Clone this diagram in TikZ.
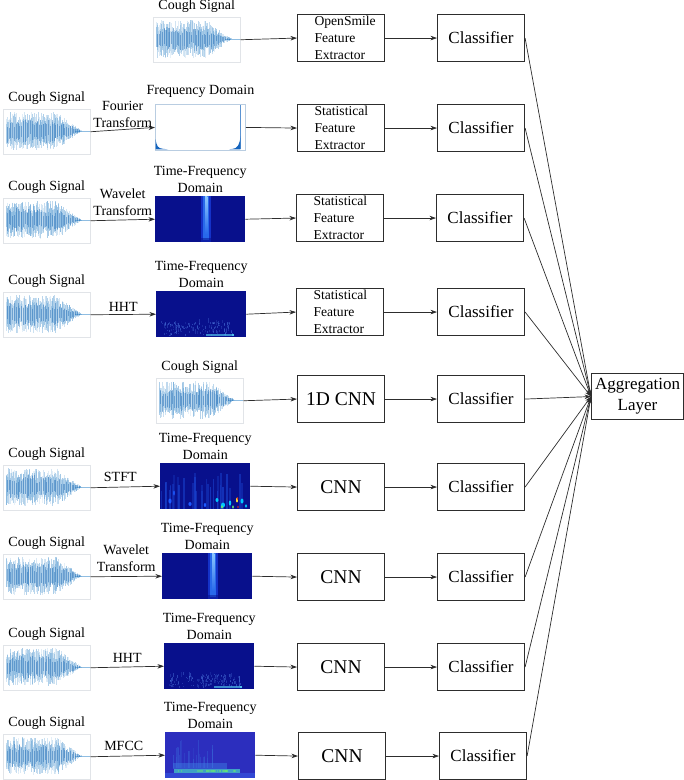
\documentclass[tikz,border=0pt]{standalone}
\usepackage{fontspec}
\setmainfont{Liberation Serif}
\usetikzlibrary{arrows.meta}
\definecolor{wavec}{RGB}{70,145,205}
\definecolor{waved}{RGB}{30,105,180}
\definecolor{navyc}{RGB}{8,16,140}
\definecolor{mfccbg}{RGB}{44,46,190}
\definecolor{linec}{RGB}{45,45,45}
\definecolor{framec}{RGB}{225,228,232}
\definecolor{fdframe}{RGB}{185,205,225}
\definecolor{fdc}{RGB}{20,100,190}
\definecolor{hhtc}{RGB}{70,110,215}
\definecolor{cyanc}{RGB}{80,190,235}
\definecolor{streakA}{RGB}{20,50,200}
\definecolor{streakB}{RGB}{40,105,235}
\definecolor{streakC}{RGB}{140,200,255}
\definecolor{sblue}{RGB}{30,90,255}
\definecolor{scyan}{RGB}{0,200,255}
\definecolor{sgreen}{RGB}{100,230,120}
\definecolor{syellow}{RGB}{250,230,50}
\definecolor{sred}{RGB}{230,50,30}
\definecolor{scol}{RGB}{25,65,205}
\definecolor{mband}{RGB}{60,120,225}
\definecolor{mcyan}{RGB}{70,200,200}
\definecolor{mlow}{RGB}{50,72,212}
\tikzset{
  box/.style={draw=linec, line width=1.1pt, minimum width=87pt, minimum height=47pt, inner sep=0pt, anchor=north west},
  featbox/.style={box, align=left, text width=53pt, inner xsep=17pt, font=\fontsize{13.6}{17}\selectfont},
  cnnbox/.style={box, font=\fontsize{19.5}{22}\selectfont},
  clsbox/.style={box, font=\fontsize{17}{20}\selectfont},
  aggbox/.style={box, minimum width=92pt, minimum height=46pt, align=center, font=\fontsize{17}{21}\selectfont},
  imgframe/.style={draw=framec, line width=0.5pt, minimum width=87pt, minimum height=45pt, inner sep=0pt, anchor=north west},
  specimg/.style={minimum width=90pt, minimum height=46pt, inner sep=0pt, anchor=north west},
  fdimg/.style={specimg, draw=fdframe, line width=0.8pt, fill=white},
  lab/.style={inner sep=0pt, font=\fontsize{14}{17}\selectfont},
  tlab/.style={inner sep=0pt, align=center, font=\fontsize{14}{17}\selectfont},
  arr/.style={draw=linec, line width=0.7pt, -{Stealth[length=6.5pt,width=4.5pt,inset=2pt]}},
}
\newcommand{\coughimg}[3]{%
  \node[imgframe] (#1) at (#2,#3) {};
  \begin{scope}[shift={(#2,#3)}]
    \draw[wavec!60, line width=0.4pt] (72,22) -- (87,22);
    \foreach \i in {0,...,150}{
      \pgfmathsetmacro\xx{3+\i*0.5}
      \pgfmathsetmacro\env{\xx<54 ? 1 : max(0.04,1-(\xx-54)/25)}
      \pgfmathsetmacro\up{\env*(0.35+0.65*rnd)*19}
      \pgfmathsetmacro\dn{\env*(0.35+0.65*rnd)*19}
      \pgfmathsetmacro\op{0.12+0.35*rnd}
      \draw[wavec, line width=0.5pt, opacity=\op] (\xx,22-\up) -- (\xx,22+\dn);
    }
    \foreach \i in {0,...,40}{
      \pgfmathsetmacro\xx{4+\i*1.8}
      \pgfmathsetmacro\env{\xx<54 ? 1 : max(0.04,1-(\xx-54)/25)}
      \pgfmathsetmacro\up{\env*(0.2+0.5*rnd)*17}
      \pgfmathsetmacro\dn{\env*(0.2+0.5*rnd)*17}
      \draw[waved, line width=0.5pt, opacity=0.45] (\xx,22-\up) -- (\xx,22+\dn);
    }
  \end{scope}}
\newcommand{\tfwavelet}[3]{%
  \node[specimg, fill=navyc] (#1) at (#2,#3) {};
  \begin{scope}[shift={(#2,#3)}]
    \fill[streakA] (46,0) rectangle (55.5,46);
    \fill[streakB] (48,0) rectangle (54,44);
    \shade[top color=streakC, bottom color=streakB] (50,0) rectangle (52.3,38);
    \fill[navyc, opacity=0.5] (46,42) rectangle (55.5,46);
  \end{scope}}
\newcommand{\tfhht}[3]{%
  \node[specimg, fill=navyc] (#1) at (#2,#3) {};
  \begin{scope}[shift={(#2,#3)}]
    \foreach \i in {1,...,140}{
      \pgfmathsetmacro\xx{4+72*rnd}
      \pgfmathsetmacro\yy{32+13*rnd}
      \pgfmathsetmacro\hh{1+5*rnd*rnd}
      \pgfmathsetmacro\op{0.2+0.4*rnd}
      \fill[hhtc, opacity=\op] (\xx,\yy) rectangle ++(0.7,-\hh);
    }
    \fill[cyanc, opacity=0.7] (50,43) rectangle (76,44.5);
    \fill[cyanc] (76,42.5) rectangle (78,44.5);
  \end{scope}}
\newcommand{\tfstft}[3]{%
  \node[specimg, fill=navyc] (#1) at (#2,#3) {};
  \begin{scope}[shift={(#2,#3)}]
    \clip (0,0) rectangle (90,46);
    \foreach \i in {1,...,30}{
      \pgfmathsetmacro\xx{88*rnd}
      \pgfmathsetmacro\yy{10+20*rnd}
      \pgfmathsetmacro\op{0.3+0.4*rnd}
      \fill[scol, opacity=\op] (\xx,\yy) rectangle (\xx+1.5,46);
    }
    \fill[sblue] (10,38) ellipse [x radius=1.6, y radius=2.5];
    \fill[sblue] (30,41) ellipse [x radius=1.6, y radius=2];
    \fill[sblue] (14,30) ellipse [x radius=0.8, y radius=2.5];
    \fill[sblue] (45,42) ellipse [x radius=1.2, y radius=2];
    \fill[scyan] (57,37) ellipse [x radius=1.5, y radius=2];
    \fill[scyan] (63,42) ellipse [x radius=2, y radius=2.5];
    \fill[scyan] (70,40) ellipse [x radius=1.2, y radius=2.5];
    \fill[scyan] (82,38) ellipse [x radius=1.5, y radius=2.5];
    \fill[scyan] (86,43) ellipse [x radius=1.2, y radius=1.8];
    \fill[sgreen] (62,44) ellipse [x radius=1.2, y radius=1.8];
    \fill[sgreen] (73,44) ellipse [x radius=0.9, y radius=1.8];
    \fill[syellow] (77,37) ellipse [x radius=1, y radius=2.5];
    \fill[sred] (77.5,35.5) ellipse [x radius=0.7, y radius=1.5];
    \fill[sred] (78,44) ellipse [x radius=0.7, y radius=1.3];
  \end{scope}}
\newcommand{\tfmfcc}[3]{%
  \node[specimg, fill=mfccbg] (#1) at (#2,#3) {};
  \begin{scope}[shift={(#2,#3)}]
    \foreach \i in {1,...,25}{
      \pgfmathsetmacro\xx{8+40*rnd}
      \pgfmathsetmacro\yy{8+20*rnd}
      \pgfmathsetmacro\op{0.15+0.25*rnd}
      \fill[mband, opacity=\op] (\xx,\yy) rectangle (\xx+1,36);
    }
    \fill[mband, opacity=0.5] (8,31) rectangle (62,37);
    \fill[mcyan, opacity=0.75] (9,37) rectangle (75,41);
    \foreach \i in {1,...,30}{
      \pgfmathsetmacro\xx{10+62*rnd}
      \fill[sgreen, opacity=0.5] (\xx,37.5) rectangle ++(1.5,2.5);
    }
    \fill[mlow] (0,41) rectangle (90,46);
  \end{scope}}
\newcommand{\fdimage}[3]{%
  \node[fdimg] (#1) at (#2,#3) {};
  \begin{scope}[shift={(#2,#3)}]
    \fill[fdc] (0.6,35) .. controls (1.5,42) and (3,44.5) .. (8,44.8) -- (13,45.4) -- (0.6,45.4) -- cycle;
    \draw[fdc!70, line width=0.5pt] (84.8,1) -- (84.8,45);
    \fill[fdc] (85.4,32) .. controls (85,41) and (82,44.5) .. (78,44.8) -- (74,45.4) -- (85.4,45.4) -- cycle;
  \end{scope}}
\begin{document}
\begin{tikzpicture}[x=1pt,y=-1pt]
\useasboundingbox (0,0) rectangle (684,780);
\pgfmathsetseed{7}
% row 1
\coughimg{c1}{153}{17}
\node[featbox] (b1) at (297,14) {OpenSmile\\Feature\\Extractor};
\node[clsbox] (k1) at (437,14) {Classifier};
% row 2
\coughimg{c2}{3}{109}
\fdimage{m2}{155}{104}
\node[featbox] (b2) at (297,104) {Statistical\\Feature\\Extractor};
\node[clsbox] (k2) at (437,104) {Classifier};
% row 3
\coughimg{c3}{3}{198}
\tfwavelet{m3}{155}{196}
\node[featbox] (b3) at (296,194) {Statistical\\Feature\\Extractor};
\node[clsbox] (k3) at (436,194) {Classifier};
% row 4
\coughimg{c4}{3}{292}
\tfhht{m4}{156}{291}
\node[featbox] (b4) at (296,288) {Statistical\\Feature\\Extractor};
\node[clsbox] (k4) at (437,288) {Classifier};
% row 5
\coughimg{c5}{156}{378}
\node[cnnbox] (b5) at (297,375) {1D CNN};
\node[clsbox] (k5) at (437,375) {Classifier};
% row 6
\coughimg{c6}{3}{465}
\tfstft{m6}{160}{463}
\node[cnnbox] (b6) at (297,463) {CNN};
\node[clsbox] (k6) at (437,463) {Classifier};
% row 7
\coughimg{c7}{3}{554}
\tfwavelet{m7}{162}{553}
\node[cnnbox] (b7) at (297,553) {CNN};
\node[clsbox] (k7) at (437,553) {Classifier};
% row 8
\coughimg{c8}{3}{645}
\tfhht{m8}{164}{643}
\node[cnnbox] (b8) at (297,643) {CNN};
\node[clsbox] (k8) at (437,643) {Classifier};
% row 9
\coughimg{c9}{3}{734}
\tfmfcc{m9}{165}{732}
\node[cnnbox] (b9) at (298,732) {CNN};
\node[clsbox] (k9) at (439,732) {Classifier};
% aggregation
\node[aggbox] (agg) at (591,373) {Aggregation\\Layer};
% cough labels
\foreach \c in {c1,c2,c3,c4,c5,c6,c7,c8,c9}
  \node[lab, anchor=base] at ([yshift=7.5pt]\c.north) {Cough Signal};
% domain labels
\node[lab, anchor=base] at ([yshift=10pt]m2.north) {Frequency Domain};
\foreach \m in {m3,m4,m6,m7,m8,m9}
  \node[tlab, anchor=south] at ([yshift=3pt]\m.north) {Time-Frequency\\Domain};
% transform arrows with labels
\draw[arr] (c2.east) -- node[tlab, above=2pt] {Fourier\\Transform} (m2.west);
\draw[arr] (c3.east) -- node[tlab, above=4pt] {Wavelet\\Transform} (m3.west);
\draw[arr] (c4.east) -- node[tlab, above=3pt] {HHT} (m4.west);
\draw[arr] (c6.east) -- node[tlab, above=5pt, xshift=-5pt] {STFT} (m6.west);
\draw[arr] (c7.east) -- node[tlab, above=4pt] {Wavelet\\Transform} (m7.west);
\draw[arr] (c8.east) -- node[tlab, above=4pt] {HHT} (m8.west);
\draw[arr] (c9.east) -- node[tlab, above=5pt, xshift=-4pt] {MFCC} (m9.west);
% into boxes
\draw[arr] (c1.east) -- (b1.west);
\draw[arr] (c5.east) -- (b5.west);
\foreach \r in {2,3,4,6,7,8,9}
  \draw[arr] (m\r.east) -- (b\r.west);
\foreach \r in {1,...,9}{
  \draw[arr] (b\r.east) -- (k\r.west);
  \draw[arr] (k\r.east) -- (agg.west);
}
\end{tikzpicture}
\end{document}
